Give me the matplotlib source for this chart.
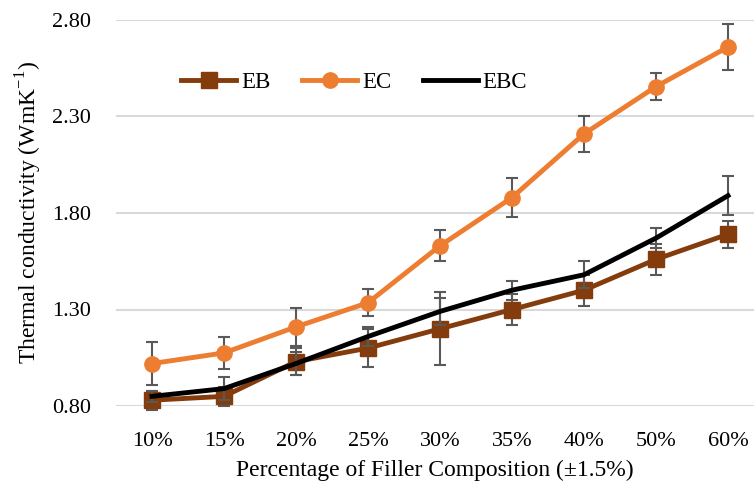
import matplotlib
matplotlib.use('Agg')
import matplotlib.pyplot as plt
import numpy as np

plt.rcParams['font.family'] = ['Liberation Serif', 'DejaVu Serif']
plt.rcParams['mathtext.fontset'] = 'custom'
plt.rcParams['mathtext.rm'] = 'Liberation Serif'

# data
categories = ['10%', '15%', '20%', '25%', '30%', '35%', '40%', '50%', '60%']
eb = [0.83, 0.85, 1.03, 1.10, 1.20, 1.30, 1.40, 1.56, 1.69]
eb_err = [0.05, 0.05, 0.07, 0.10, 0.19, 0.08, 0.08, 0.08, 0.07]
ec = [1.02, 1.075, 1.21, 1.335, 1.63, 1.88, 2.21, 2.455, 2.66]
ec_err = [0.11, 0.085, 0.10, 0.07, 0.08, 0.10, 0.095, 0.07, 0.12]
ebc = [0.85, 0.89, 1.02, 1.16, 1.29, 1.40, 1.48, 1.67, 1.89]
ebc_err = [0.03, 0.06, 0.06, 0.05, 0.07, 0.05, 0.07, 0.05, 0.10]

fig = plt.figure(figsize=(7.54, 4.88), dpi=100)
ax = fig.add_axes([116 / 754, 82 / 488, 638 / 754, 386 / 488])

x = np.arange(len(categories))
err_kw = dict(ecolor='#595959', elinewidth=1.5, capsize=4.5, capthick=1.5)

ax.errorbar(x, eb, yerr=eb_err, color='#843C0C', lw=3.5, marker='s', ms=11,
            label='EB', clip_on=False, zorder=3, **err_kw)
ax.errorbar(x, ec, yerr=ec_err, color='#ED7D31', lw=3.5, marker='o', ms=11,
            label='EC', clip_on=False, zorder=3, **err_kw)
ax.errorbar(x, ebc, yerr=ebc_err, color='black', lw=3.5,
            label='EBC', clip_on=False, zorder=4, **err_kw)

ax.set_xlim(-0.5, -0.5 + 638 / 72)
ax.set_ylim(0.80, 2.80)
ax.set_yticks([0.80, 1.30, 1.80, 2.30, 2.80])
ax.set_yticklabels(['0.80', '1.30', '1.80', '2.30', '2.80'])
ax.set_xticks(x)
ax.set_xticklabels(categories)
ax.tick_params(length=0, labelsize=16)
ax.tick_params(axis='x', pad=19)
ax.tick_params(axis='y', pad=18)
ax.grid(axis='y', color='#D9D9D9', lw=1.5)
ax.set_axisbelow(True)
for s in ax.spines.values():
    s.set_visible(False)

ax.set_xlabel('Percentage of Filler Composition (±1.5%)', fontsize=17, labelpad=6)
ax.set_ylabel('Thermal conductivity (WmK$^{-1}$)', fontsize=17, labelpad=6)

handles, labels = ax.get_legend_handles_labels()
handles = [h[0] for h in handles]
ax.legend(handles, labels, ncol=3, frameon=False, fontsize=16.5,
          loc='upper left', bbox_to_anchor=(0.07, 0.92),
          handlelength=2.4, handletextpad=0.2, columnspacing=1.4)

fig.savefig('out.png', dpi=100)
